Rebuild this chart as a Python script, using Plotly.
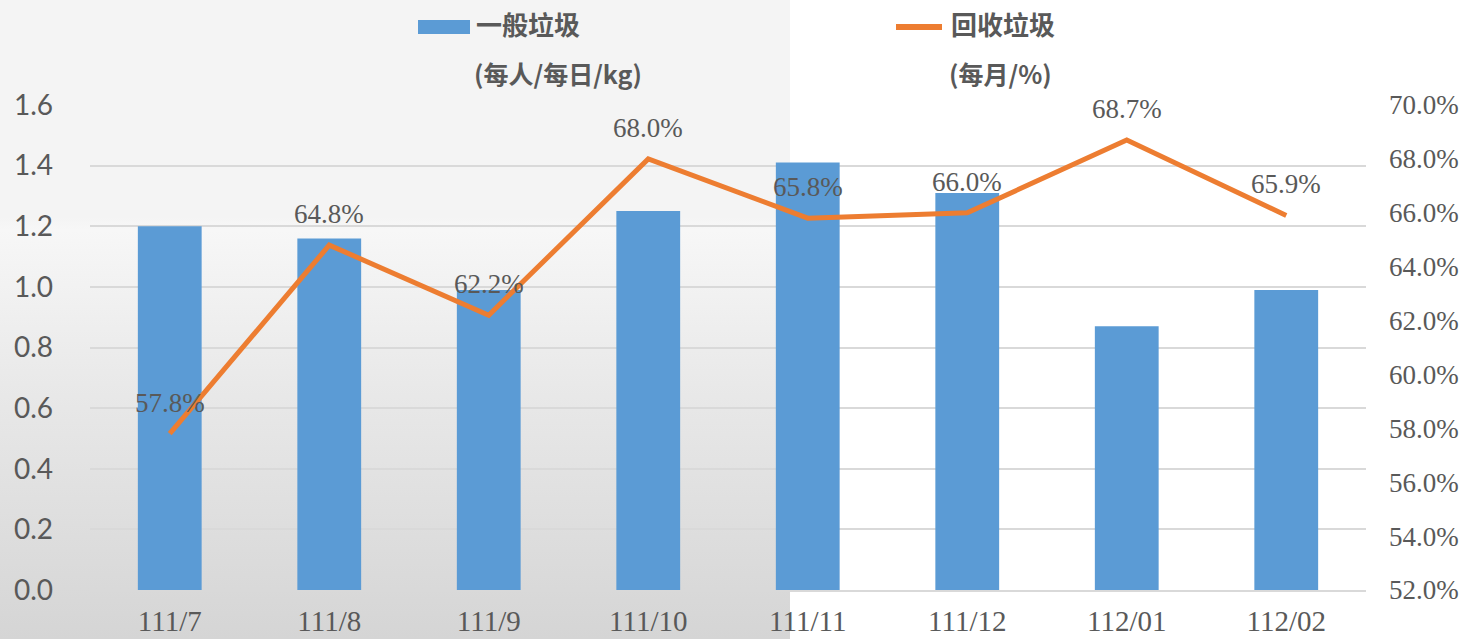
import base64
import plotly.graph_objects as go

categories = ["111/7", "111/8", "111/9", "111/10", "111/11", "111/12", "112/01", "112/02"]
general_waste = [1.20, 1.16, 0.99, 1.25, 1.41, 1.31, 0.87, 0.99]
recycle_rate = [0.578, 0.648, 0.622, 0.680, 0.658, 0.660, 0.687, 0.659]
recycle_labels = ["57.8%", "64.8%", "62.2%", "68.0%", "65.8%", "66.0%", "68.7%", "65.9%"]

W, H = 1473, 639
ML, MR, MT, MB = 90, 107, 105, 49
PW, PH = W - ML - MR, H - MT - MB

BLUE = "#5B9BD5"
ORANGE = "#ED7D31"
TXT = "#595959"
GRID = "#D9D9D9"
SERIF = "Liberation Serif"
CJK = "Noto Sans CJK TC"

def px_x(px):
    return (px - ML) / PW

def px_y(py):
    return (H - MB - py) / PH

svg = """<svg xmlns='http://www.w3.org/2000/svg' width='790' height='639' viewBox='0 0 790 639' preserveAspectRatio='none'>
<defs><linearGradient id='g' x1='0' y1='0' x2='0' y2='1'>
<stop offset='0' stop-color='#F4F4F4'/>
<stop offset='0.34' stop-color='#F4F4F4'/>
<stop offset='0.36' stop-color='#F7F7F7'/>
<stop offset='0.6' stop-color='#E9E9E9'/>
<stop offset='1' stop-color='#D5D5D5'/>
</linearGradient></defs>
<rect x='0' y='0' width='790' height='639' fill='url(#g)'/>
</svg>"""
bg_src = "data:image/svg+xml;base64," + base64.b64encode(svg.encode()).decode()

fig = go.Figure()
fig.add_trace(go.Bar(
    x=categories, y=general_waste, name="一般垃圾",
    marker=dict(color=BLUE, line=dict(width=0)),
    yaxis="y", showlegend=False,
))
fig.add_trace(go.Scatter(
    x=categories, y=recycle_rate, name="回收垃圾", yaxis="y2",
    mode="lines", line=dict(color=ORANGE, width=5),
    showlegend=False, cliponaxis=False,
))

annotations = [
    dict(x=c, y=v, xref="x", yref="y2", text=t, showarrow=False,
         yanchor="middle", xanchor="center", yshift=31,
         font=dict(family=SERIF, size=27, color=TXT))
    for c, v, t in zip(categories, recycle_rate, recycle_labels)
]
annotations += [
    dict(text="<b>一般垃圾</b>", xref="paper", yref="paper", x=px_x(474), y=px_y(24),
         xanchor="left", yanchor="middle", showarrow=False,
         font=dict(family=CJK, size=26, color=TXT)),
    dict(text="<b>(每人/每日/kg)</b>", xref="paper", yref="paper", x=px_x(558), y=px_y(73),
         xanchor="center", yanchor="middle", showarrow=False,
         font=dict(family=CJK, size=25, color=TXT)),
    dict(text="<b>回收垃圾</b>", xref="paper", yref="paper", x=px_x(949), y=px_y(24),
         xanchor="left", yanchor="middle", showarrow=False,
         font=dict(family=CJK, size=26, color=TXT)),
    dict(text="<b>(每月/%)</b>", xref="paper", yref="paper", x=px_x(1000), y=px_y(73),
         xanchor="center", yanchor="middle", showarrow=False,
         font=dict(family=CJK, size=25, color=TXT)),
]

fig.update_layout(
    template="none",
    width=W, height=H,
    margin=dict(l=ML, r=MR, t=MT, b=MB, autoexpand=False),
    paper_bgcolor="white", plot_bgcolor="rgba(0,0,0,0)",
    bargap=0.6,
    xaxis=dict(
        type="category", automargin=False, showgrid=False, showline=True, linecolor=GRID, linewidth=1.5,
        ticks="", tickfont=dict(family=SERIF, size=29, color=TXT), ticklabelstandoff=4,
    ),
    yaxis=dict(
        range=[0, 1.6], dtick=0.2, tickformat=".1f", automargin=False,
        showgrid=True, gridcolor=GRID, gridwidth=1.5,
        zeroline=False, showline=False, ticks="",
        tickfont=dict(family="Lato", size=28, color=TXT), ticklabelstandoff=36,
    ),
    yaxis2=dict(
        range=[0.52, 0.70], dtick=0.02, tickformat=".1%", overlaying="y", side="right",
        automargin=False, showgrid=False, zeroline=False, showline=False, ticks="",
        tickfont=dict(family=SERIF, size=27, color=TXT), ticklabelstandoff=22,
    ),
    images=[dict(
        source=bg_src, xref="paper", yref="paper",
        x=px_x(0), y=px_y(0), sizex=px_x(790) - px_x(0), sizey=px_y(0) - px_y(639),
        xanchor="left", yanchor="top", sizing="stretch", layer="below",
    )],
    shapes=[
        dict(type="rect", xref="paper", yref="paper",
             x0=px_x(418), x1=px_x(470), y0=px_y(34), y1=px_y(20),
             fillcolor=BLUE, line=dict(width=0)),
        dict(type="line", xref="paper", yref="paper",
             x0=px_x(896), x1=px_x(942), y0=px_y(27), y1=px_y(27),
             line=dict(color=ORANGE, width=6)),
    ],
    annotations=annotations,
)

fig.write_html(
    "out.html",
    config={"displayModeBar": False},
    post_script="document.body.style.margin='0';document.body.style.overflow='hidden';",
)
